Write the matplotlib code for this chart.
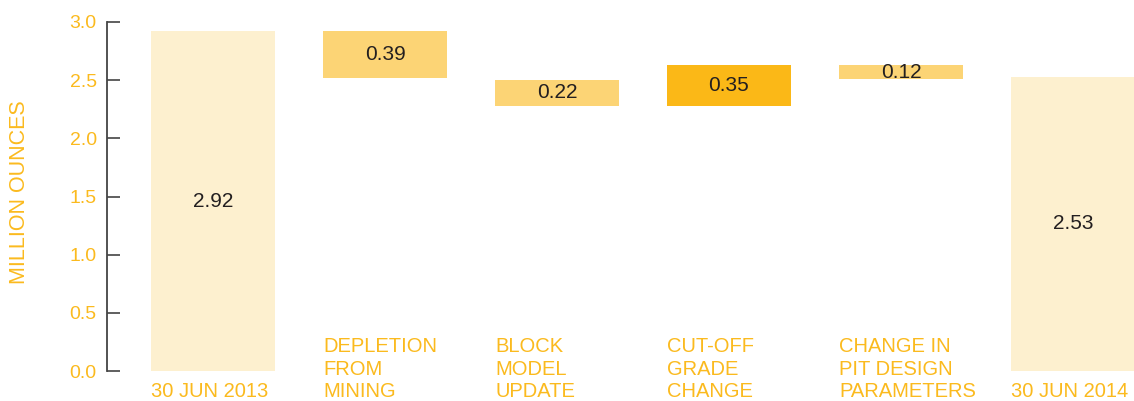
import matplotlib
matplotlib.use('Agg')
from matplotlib import pyplot as plt
from matplotlib import transforms

# Reserve bridge, million ounces
categories = ['30 JUN 2013', 'DEPLETION\nFROM\nMINING', 'BLOCK\nMODEL\nUPDATE',
              'CUT-OFF\nGRADE\nCHANGE', 'CHANGE IN\nPIT DESIGN\nPARAMETERS', '30 JUN 2014']
value_labels = ['2.92', '0.39', '0.22', '0.35', '0.12', '2.53']
bar_bottoms = [0, 2.52, 2.28, 2.28, 2.51, 0]
bar_tops = [2.92, 2.92, 2.50, 2.63, 2.63, 2.53]
yticks = [0.0, 0.5, 1.0, 1.5, 2.0, 2.5, 3.0]

pale = '#FDF0CF'
mid = '#FCD475'
strong = '#FBB817'
colors = [pale, mid, mid, strong, mid, pale]
yellow = '#FBBA1E'
dark = '#231F20'

fam = ['Liberation Sans', 'DejaVu Sans']
plt.rcParams['font.family'] = fam

fig = plt.figure(figsize=(11.34, 4.01), dpi=100)
ax = fig.add_axes([106.5 / 1134, 30 / 401, 1 - 106.5 / 1134, 349 / 401])

x = list(range(len(categories)))
w = 0.72
heights = [t - b for t, b in zip(bar_tops, bar_bottoms)]
ax.bar(x, heights, bottom=bar_bottoms, width=w, color=colors, linewidth=0)

for i in x:
    mid_y = (bar_tops[i] + bar_bottoms[i]) / 2
    ax.text(i, mid_y, value_labels[i], ha='center', va='center',
            fontsize=15, color=dark)

# category labels under/beside the bars, left aligned to the bar edge
trans = transforms.blended_transform_factory(ax.transData, ax.transAxes)
for i, cat in enumerate(categories):
    ax.text(i - w / 2, -0.086, cat, transform=trans, ha='left', va='bottom',
            fontsize=14.5, color=yellow, linespacing=1.22)

ax.set_xlim((106.5 - 213) / 172, (1134 - 213) / 172)
ax.set_ylim(0, 3.0)
ax.set_yticks(yticks)
ax.set_yticklabels([f'{t:.1f}' for t in yticks])
ax.tick_params(axis='y', direction='in', length=9, width=1.2, color='#444444',
               labelcolor=yellow, labelsize=14, pad=7)
ax.tick_params(axis='x', bottom=False, labelbottom=False)

for s in ['top', 'right', 'bottom']:
    ax.spines[s].set_visible(False)
ax.spines['left'].set_color('#444444')
ax.spines['left'].set_linewidth(1.3)

fig.text(20 / 1134, 1 - 192 / 401, 'MILLION OUNCES', rotation=90, ha='center',
         va='center', fontsize=15.5, color=yellow)

plt.savefig('out.png', dpi=100)
